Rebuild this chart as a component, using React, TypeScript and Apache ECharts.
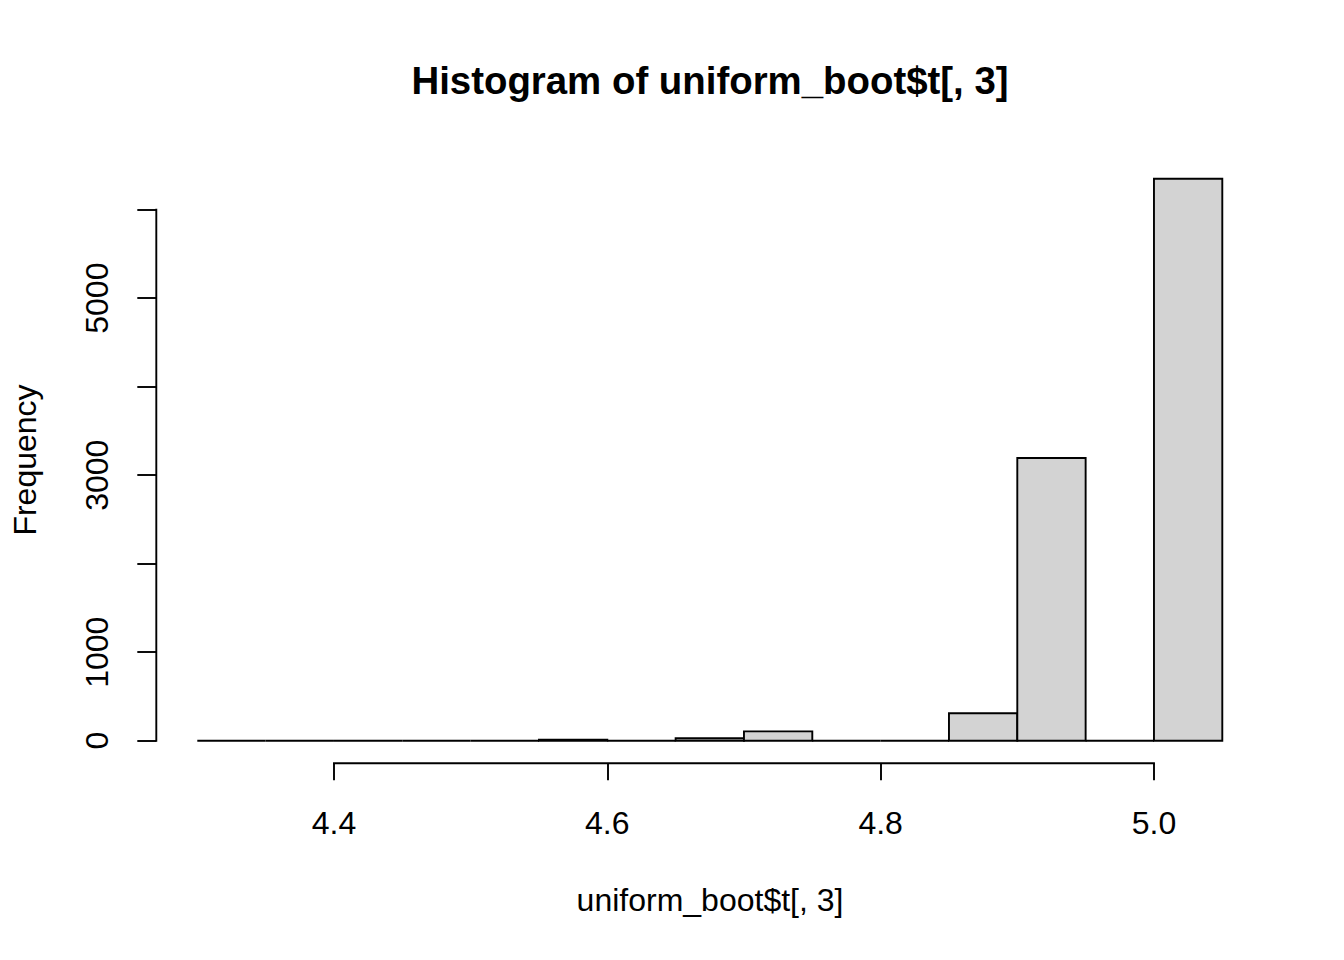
import React, { useEffect, useRef } from "react";
import * as echarts from "echarts";

// Histogram bin edges and counts
const breaks = [4.3, 4.35, 4.4, 4.45, 4.5, 4.55, 4.6, 4.65, 4.7, 4.75, 4.8, 4.85, 4.9, 4.95, 5.0, 5.05];
const counts = [0, 0, 0, 0, 0, 11, 0, 28, 106, 0, 0, 310, 3195, 0, 6350];

const xTicks = [4.4, 4.6, 4.8, 5.0];
const yTicks = [0, 1000, 2000, 3000, 4000, 5000, 6000];
const yLabels = [0, 1000, 3000, 5000];

const titleText = "Histogram of uniform_boot$t[, 3]";
const xTitle = "uniform_boot$t[, 3]";
const yTitle = "Frequency";

const FONT = "'Liberation Sans', Arial, Helvetica, sans-serif";

export default function App() {
  const ref = useRef<HTMLDivElement>(null);

  useEffect(() => {
    if (!ref.current) return;
    const chart = echarts.init(ref.current, null, { renderer: "svg" });

    const xRange = breaks[breaks.length - 1] - breaks[0];
    const xMin = breaks[0] - 0.04 * xRange;
    const xMax = breaks[breaks.length - 1] + 0.04 * xRange;
    const yMaxData = Math.max(...counts);
    const yMin = -0.04 * yMaxData;
    const yMax = yMaxData * 1.04;

    const barData = counts.map((c, i) => [breaks[i], breaks[i + 1], c]);

    const LW = 1.9;

    chart.setOption({
      animation: false,
      backgroundColor: "#ffffff",
      grid: { left: 156.3, right: 80.7, top: 156.2, bottom: 196.8, containLabel: false },
      xAxis: {
        type: "value",
        min: xMin,
        max: xMax,
        axisLine: { show: false, onZero: false },
        splitLine: { show: false },
        axisTick: {
          show: true,
          length: 17,
          customValues: xTicks,
          lineStyle: { color: "#000", width: LW },
        },
        axisLabel: {
          show: true,
          customValues: xTicks,
          margin: 44,
          color: "#000",
          fontSize: 32,
          fontFamily: FONT,
          formatter: (v: number) => v.toFixed(1),
        },
      },
      yAxis: {
        type: "value",
        min: yMin,
        max: yMax,
        axisLine: { show: false, onZero: false },
        splitLine: { show: false },
        axisTick: {
          show: true,
          length: 19,
          customValues: yTicks,
          lineStyle: { color: "#000", width: LW },
        },
        axisLabel: {
          show: true,
          customValues: yLabels,
          rotate: 90,
          margin: 43,
          color: "#000",
          fontSize: 32,
          fontFamily: FONT,
          formatter: (v: number) => String(v),
        },
      },
      graphic: [
        {
          type: "text",
          x: 710,
          y: 80,
          style: {
            text: titleText,
            fontSize: 38.4,
            fontWeight: "bold",
            fontFamily: FONT,
            fill: "#000",
            align: "center",
            verticalAlign: "middle",
          },
        },
        {
          type: "text",
          x: 710,
          y: 900,
          style: {
            text: xTitle,
            fontSize: 32,
            fontFamily: FONT,
            fill: "#000",
            align: "center",
            verticalAlign: "middle",
          },
        },
        {
          type: "text",
          x: 25,
          y: 460,
          rotation: Math.PI / 2,
          style: {
            text: yTitle,
            fontSize: 32,
            fontFamily: FONT,
            fill: "#000",
            align: "center",
            verticalAlign: "middle",
          },
        },
      ],
      series: [
        {
          type: "custom",
          name: "hist",
          clip: false,
          data: barData,
          encode: { x: [0, 1], y: 2 },
          renderItem: (params: any, api: any) => {
            const x0 = api.value(0);
            const x1 = api.value(1);
            const c = api.value(2);
            const p0 = api.coord([x0, 0]);
            const p1 = api.coord([x1, c]);
            if (c === 0) {
              return {
                type: "line",
                shape: { x1: p0[0], y1: p0[1], x2: p1[0], y2: p0[1] },
                style: { stroke: "#000", lineWidth: LW },
              };
            }
            return {
              type: "rect",
              shape: { x: p0[0], y: p1[1], width: p1[0] - p0[0], height: p0[1] - p1[1] },
              style: { fill: "#D3D3D3", stroke: "#000", lineWidth: LW },
            };
          },
        },
        {
          type: "custom",
          name: "axes",
          clip: false,
          data: [[0]],
          renderItem: (params: any, api: any) => {
            const a0 = api.coord([xTicks[0], yMin]);
            const a1 = api.coord([xTicks[xTicks.length - 1], yMin]);
            const b0 = api.coord([xMin, yTicks[0]]);
            const b1 = api.coord([xMin, yTicks[yTicks.length - 1]]);
            return {
              type: "group",
              children: [
                {
                  type: "line",
                  shape: { x1: a0[0], y1: a0[1], x2: a1[0], y2: a1[1] },
                  style: { stroke: "#000", lineWidth: LW, lineCap: "square" },
                },
                {
                  type: "line",
                  shape: { x1: b0[0], y1: b0[1], x2: b1[0], y2: b1[1] },
                  style: { stroke: "#000", lineWidth: LW, lineCap: "square" },
                },
              ],
            };
          },
        },
      ],
    });

    return () => chart.dispose();
  }, []);

  return (
    <div
      ref={ref}
      style={{ position: "absolute", left: 0, top: 0, width: 1344, height: 960, background: "#fff" }}
    />
  );
}
